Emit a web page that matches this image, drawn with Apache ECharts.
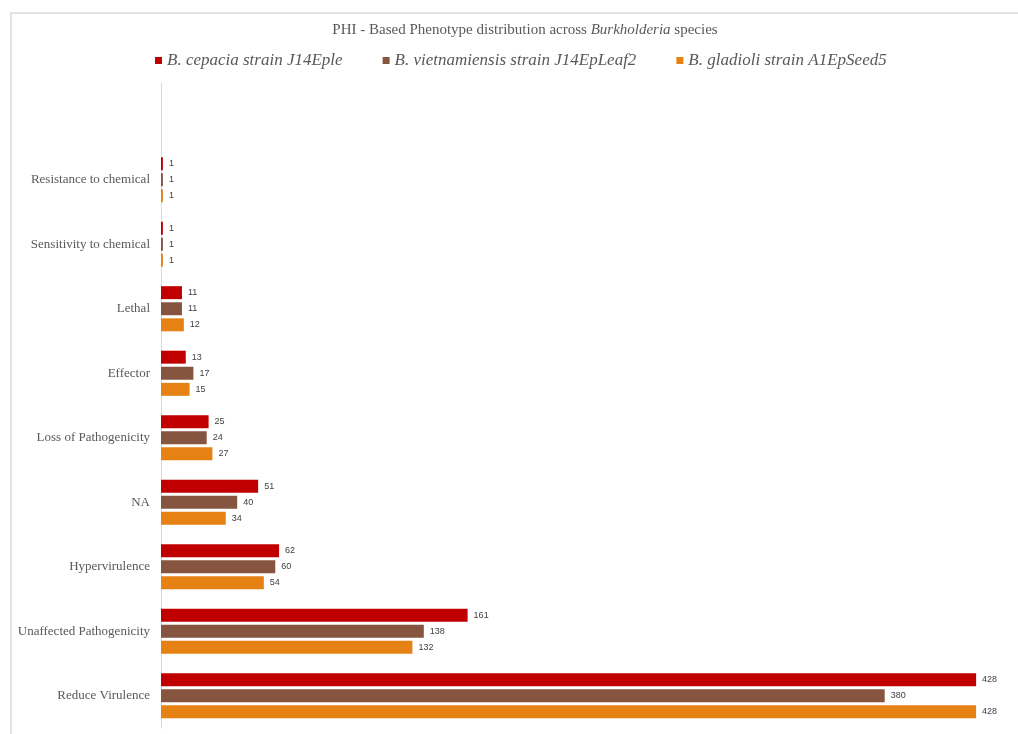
<!DOCTYPE html>
<html>
<head>
<meta charset="utf-8">
<script src="https://cdn.jsdelivr.net/npm/echarts@6/dist/echarts.min.js"></script>
<style>
  html, body { margin: 0; padding: 0; background: #ffffff; }
  #frame { position: absolute; left: 10px; top: 12px; width: 1008px; height: 722px;
           border-left: 2px solid #e2e2e2; border-top: 2px solid #e2e2e2; box-sizing: border-box; }
  #chart { position: absolute; left: 0; top: 0; width: 1018px; height: 734px; }
</style>
</head>
<body>
<div id="frame"></div>
<div id="chart"></div>
<script>
// Phenotype categories, listed top to bottom (the first slot is left blank)
const categories = [
  "",
  "Resistance to chemical",
  "Sensitivity to chemical",
  "Lethal",
  "Effector",
  "Loss of Pathogenicity",
  "NA",
  "Hypervirulence",
  "Unaffected Pathogenicity",
  "Reduce Virulence"
];

const seriesNames = [
  "B. cepacia strain J14Eple",
  "B. vietnamiensis strain J14EpLeaf2",
  "B. gladioli strain A1EpSeed5"
];

const cepacia      = [null, 1, 1, 11, 13, 25, 51, 62, 161, 428];
const vietnamiensis = [null, 1, 1, 11, 17, 24, 40, 60, 138, 380];
const gladioli     = [null, 1, 1, 12, 15, 27, 34, 54, 132, 428];

const colors = ["#C00000", "#86553F", "#E68214"];
const values = [cepacia, vietnamiensis, gladioli];

const chart = echarts.init(document.getElementById("chart"), null, { renderer: "canvas" });

const series = seriesNames.map((name, i) => ({
  name: name,
  type: "bar",
  data: values[i],
  barGap: "24%",
  barCategoryGap: "30%",
  itemStyle: { color: colors[i] },
  label: {
    show: true,
    position: "right",
    distance: 6,
    color: "#404040",
    fontFamily: "Liberation Sans, Arial, sans-serif",
    fontSize: 9
  },
  emphasis: { disabled: true }
}));

chart.setOption({
  animation: false,
  backgroundColor: "transparent",
  title: {
    text: "PHI - Based Phenotype distribution across {i|Burkholderia} species",
    left: 520,
    textAlign: "center",
    top: 18,
    textStyle: {
      fontFamily: "Liberation Serif, Times New Roman, serif",
      fontSize: 15,
      fontWeight: "normal",
      color: "#595959",
      rich: {
        i: {
          fontFamily: "Liberation Serif, Times New Roman, serif",
          fontSize: 15,
          fontStyle: "italic",
          color: "#595959"
        }
      }
    }
  },
  legend: {
    left: 150,
    top: 47,
    icon: "rect",
    itemWidth: 7,
    itemHeight: 7,
    itemGap: 40,
    data: seriesNames,
    textStyle: {
      fontFamily: "Liberation Serif, Times New Roman, serif",
      fontSize: 17,
      fontStyle: "italic",
      color: "#595959"
    }
  },
  grid: {
    left: 161,
    right: 0,
    top: 83,
    bottom: 6,
    containLabel: false
  },
  xAxis: {
    type: "value",
    min: 0,
    max: 450,
    show: false
  },
  yAxis: {
    type: "category",
    inverse: true,
    data: categories,
    axisLine: { show: true, lineStyle: { color: "#d9d9d9", width: 1 } },
    axisTick: { show: false },
    axisLabel: {
      margin: 11,
      fontFamily: "Liberation Serif, Times New Roman, serif",
      fontSize: 13,
      color: "#595959"
    }
  },
  series: series
});
</script>
</body>
</html>
